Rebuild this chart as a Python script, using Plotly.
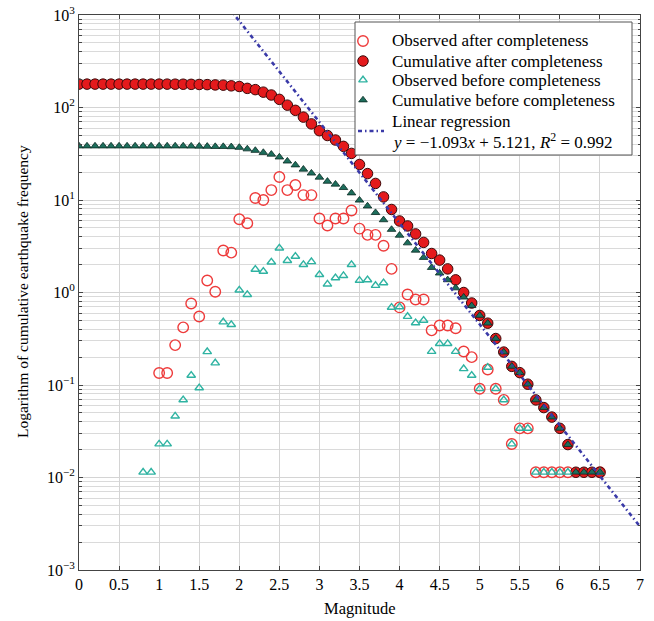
import plotly.graph_objects as go

# ---------------- data ----------------
mag_all = [round(0.1 * i, 1) for i in range(66)]  # 0.0 .. 6.5

# Observed after completeness
obs_after_m = [1.0, 1.1, 1.2, 1.3, 1.4, 1.5, 1.6, 1.7, 1.8, 1.9,
               2.0, 2.1, 2.2, 2.3, 2.4, 2.5, 2.6, 2.7, 2.8, 2.9,
               3.0, 3.1, 3.2, 3.3, 3.4, 3.5, 3.6, 3.7, 3.8, 3.9,
               4.0, 4.1, 4.2, 4.3, 4.4, 4.5, 4.6, 4.7, 4.8, 4.9,
               5.0, 5.1, 5.2, 5.3, 5.4, 5.5, 5.6, 5.7, 5.8, 5.9,
               6.0, 6.1, 6.5]
obs_after_v = [0.135, 0.135, 0.27, 0.42, 0.76, 0.55, 1.35, 1.02, 2.85, 2.7,
               6.2, 5.6, 10.5, 10.0, 12.8, 17.7, 12.8, 14.5, 11.3, 11.3,
               6.3, 5.3, 6.3, 6.3, 7.7, 4.9, 4.2, 4.2, 3.2, 1.8,
               0.69, 0.95, 0.84, 0.84, 0.39, 0.44, 0.44, 0.41, 0.23, 0.20,
               0.091, 0.147, 0.091, 0.069, 0.023, 0.034, 0.034, 0.0114, 0.0114, 0.0114,
               0.0114, 0.0114, 0.0114]

# Cumulative after completeness (0.0 .. 6.5)
cum_after_v = [179, 179, 179, 179, 179, 179, 179, 179, 179, 179,
               179, 178.9, 178.7, 178.5, 178, 177.3, 176.7, 175.4, 174.4, 171.5,
               168.8, 161, 156, 146.5, 136.5, 122.5, 106, 93.2, 78.7, 66.5,
               56.1, 49.8, 44.5, 38, 31.9, 24.2, 19.3, 15.1, 10.8, 7.9,
               5.93, 5.24, 4.3, 3.48, 2.64, 2.24, 1.8, 1.37, 1.0, 0.77,
               0.565, 0.466, 0.318, 0.227, 0.159, 0.136, 0.102, 0.069, 0.057, 0.045,
               0.034, 0.0227, 0.0114, 0.0114, 0.0114, 0.0114]

# Observed before completeness
obs_before_m = [0.8, 0.9, 1.0, 1.1, 1.2, 1.3, 1.4, 1.5, 1.6, 1.7, 1.8, 1.9,
                2.0, 2.1, 2.2, 2.3, 2.4, 2.5, 2.6, 2.7, 2.8, 2.9,
                3.0, 3.1, 3.2, 3.3, 3.4, 3.5, 3.6, 3.7, 3.8, 3.9,
                4.0, 4.1, 4.2, 4.3, 4.4, 4.5, 4.6, 4.7, 4.8, 4.9,
                5.0, 5.1, 5.2, 5.3, 5.4, 5.5, 5.6, 5.7, 5.8, 5.9,
                6.0, 6.1, 6.5]
obs_before_v = [0.0114, 0.0114, 0.023, 0.023, 0.046, 0.069, 0.127, 0.093, 0.229, 0.173, 0.48, 0.45,
                1.06, 0.95, 1.78, 1.69, 2.13, 3.02, 2.21, 2.46, 2.0, 2.15,
                1.56, 1.23, 1.44, 1.52, 2.0, 1.35, 1.37, 1.19, 1.27, 0.69,
                0.70, 0.55, 0.47, 0.50, 0.23, 0.28, 0.28, 0.23, 0.15, 0.127,
                0.091, 0.155, 0.091, 0.069, 0.023, 0.034, 0.034, 0.0114, 0.0114, 0.0114,
                0.0114, 0.0114, 0.0114]

# Cumulative before completeness (0.0 .. 6.5)
cum_before_v = [38.3, 38.3, 38.3, 38.3, 38.3, 38.3, 38.3, 38.3, 38.3, 38.3,
                38.3, 38.3, 38.3, 38.3, 38.2, 38.1, 38.0, 37.8, 37.8, 37.6,
                37.0, 35.6, 34.3, 32.6, 31.2, 29.1, 26.3, 23.9, 21.5, 19.5,
                17.6, 15.9, 14.8, 13.6, 11.9, 9.95, 8.6, 7.3, 6.1, 4.8,
                4.15, 3.43, 2.86, 2.39, 1.86, 1.62, 1.37, 1.12, 0.89, 0.72,
                0.565, 0.466, 0.318, 0.227, 0.159, 0.136, 0.102, 0.069, 0.057, 0.045,
                0.034, 0.0227, 0.0114, 0.0114, 0.0114, 0.0114]

# Linear regression  log10(N) = a*M + b
reg_a = -1.093
reg_b = 5.121
reg_m = [0.0, 7.0]

series_names = ["Observed after completeness", "Cumulative after completeness",
                "Observed before completeness", "Cumulative before completeness",
                "Linear regression"]
reg_label = "<i>y</i> = −1.093<i>x</i> + 5.121, <i>R</i><sup>2</sup> = 0.992"

x_ticks = [0, 0.5, 1, 1.5, 2, 2.5, 3, 3.5, 4, 4.5, 5, 5.5, 6, 6.5, 7]
x_labels = ["0", "0.5", "1", "1.5", "2", "2.5", "3", "3.5", "4", "4.5", "5", "5.5", "6", "6.5", "7"]
y_exps = [-3, -2, -1, 0, 1, 2, 3]
y_labels = ["10<sup>−3</sup>", "10<sup>−2</sup>", "10<sup>−1</sup>", "10<sup>0</sup>",
            "10<sup>1</sup>", "10<sup>2</sup>", "10<sup>3</sup>"]

# ---------------- styling ----------------
FONT = "Liberation Serif, Times New Roman, serif"
W, H = 654, 621
ML, MR, MT, MB = 79, 14, 15, 51
PW, PH = W - ML - MR, H - MT - MB

def px_x(p):  # pixel -> fraction of plot area
    return (p - ML) / PW

def px_y(p):
    return (H - MB - p) / PH

styles = [
    dict(symbol="circle-open", size=10.5, color="#ee3b3b", line=dict(width=1.4, color="#ee3b3b")),
    dict(symbol="circle", size=10.5, color="#e41a1c", line=dict(width=1, color="#3a0808")),
    dict(symbol="triangle-up-open", size=7.5, color="#2fb3a2", line=dict(width=1.4, color="#2fb3a2")),
    dict(symbol="triangle-up", size=7.5, color="#1d6e5c", line=dict(width=0.8, color="#0a2a22")),
]
reg_line = dict(color="#3a3aa8", width=2.6, dash="4px,3px,1.5px,3px")

reg_y = [10 ** (reg_a * m + reg_b) for m in reg_m]

fig = go.Figure()
fig.add_trace(go.Scatter(x=obs_after_m, y=obs_after_v, mode="markers", name=series_names[0], marker=styles[0]))
fig.add_trace(go.Scatter(x=mag_all, y=cum_after_v, mode="markers", name=series_names[1], marker=styles[1]))
fig.add_trace(go.Scatter(x=obs_before_m, y=obs_before_v, mode="markers", name=series_names[2], marker=styles[2]))
fig.add_trace(go.Scatter(x=mag_all, y=cum_before_v, mode="markers", name=series_names[3], marker=styles[3]))
fig.add_trace(go.Scatter(x=reg_m, y=reg_y, mode="lines", name=series_names[4], line=reg_line))

# ---- legend drawn on an overlay axis pair (0..1 over the plot area) ----
lx0, lx1, ly0, ly1 = px_x(355), px_x(632), px_y(155), px_y(22)
fig.add_trace(go.Scatter(
    x=[lx0, lx1, lx1, lx0, lx0], y=[ly0, ly0, ly1, ly1, ly0], xaxis="x2", yaxis="y2",
    mode="lines", fill="toself", fillcolor="white", line=dict(color="#555555", width=1),
    hoverinfo="skip", showlegend=False))
entry_py = [41, 61, 80, 100]
sym_x = px_x(363)
for st, py in zip(styles, entry_py):
    fig.add_trace(go.Scatter(x=[sym_x], y=[px_y(py)], xaxis="x2", yaxis="y2", mode="markers",
                             marker=st, hoverinfo="skip", showlegend=False))
fig.add_trace(go.Scatter(x=[px_x(358), px_x(384)], y=[px_y(131), px_y(131)], xaxis="x2", yaxis="y2",
                         mode="lines", line=reg_line, hoverinfo="skip", showlegend=False))

annotations = []
text_x = px_x(390)
for name, py in zip(series_names[:4] + [series_names[4], reg_label], entry_py + [121, 141]):
    annotations.append(dict(x=text_x, y=px_y(py), xref="paper", yref="paper", text=name,
                            showarrow=False, xanchor="left", yanchor="middle",
                            font=dict(family=FONT, size=17, color="black")))
annotations.append(dict(x=px_x(360), y=px_y(608), xref="paper", yref="paper", text="Magnitude",
                        showarrow=False, xanchor="center", yanchor="middle",
                        font=dict(family=FONT, size=16.5, color="black")))
annotations.append(dict(x=px_x(22), y=px_y(292), xref="paper", yref="paper",
                        text="Logarithm of cumulative earthquake frequency", textangle=-90,
                        showarrow=False, xanchor="center", yanchor="middle",
                        font=dict(family=FONT, size=15.5, color="black")))

minor_vals = [k * 10 ** e for e in range(-3, 3) for k in range(2, 10)]

fig.update_layout(
    width=W, height=H,
    margin=dict(l=ML, r=MR, t=MT, b=MB),
    paper_bgcolor="white", plot_bgcolor="white",
    font=dict(family=FONT, size=15, color="black"),
    showlegend=False,
    annotations=annotations,
    xaxis2=dict(overlaying="x", range=[0, 1], visible=False, anchor="y2", fixedrange=True),
    yaxis2=dict(overlaying="y", range=[0, 1], visible=False, anchor="x2", fixedrange=True),
)
fig.update_layout(
    xaxis=dict(
        range=[0, 7], tickmode="array", tickvals=x_ticks, ticktext=x_labels,
        automargin=False,
        showgrid=True, gridcolor="#d4d4d4", gridwidth=1,
        ticks="inside", ticklen=4, tickcolor="#444", mirror="ticks",
        showline=True, linecolor="#444", linewidth=1, zeroline=False,
        tickfont=dict(family=FONT, size=16),
    ),
    yaxis=dict(
        type="log", range=[-3, 3], tickmode="array",
        tickvals=[10 ** e for e in y_exps], ticktext=y_labels,
        automargin=False,
        showgrid=True, gridcolor="#d4d4d4", gridwidth=1,
        ticks="inside", ticklen=4, tickcolor="#444", mirror="ticks",
        showline=True, linecolor="#444", linewidth=1, zeroline=False,
        minor=dict(tickmode="array", tickvals=minor_vals, ticks="inside", ticklen=2.5,
                   tickcolor="#444", showgrid=True, gridcolor="#dadada", gridwidth=1),
        tickfont=dict(family=FONT, size=16),
    ),
)

fig.write_html("out.html", config={"displayModeBar": False},
               post_script="document.body.style.margin='0';document.body.style.overflow='hidden';")
